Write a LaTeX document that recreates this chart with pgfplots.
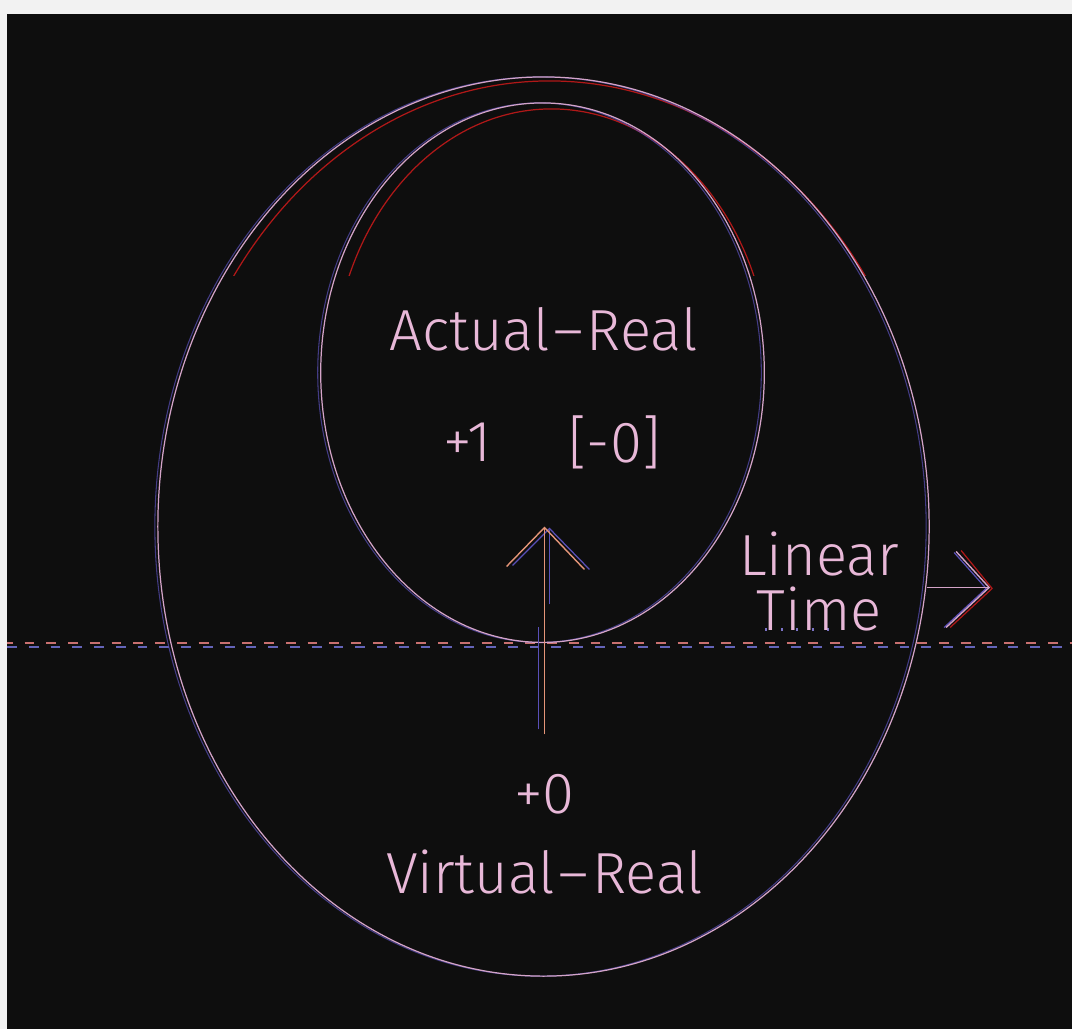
\documentclass[border=0pt]{standalone}
\usepackage{pgfplots}
\pgfplotsset{compat=1.18}
\usepackage{fontspec}
\setmainfont{Fira Sans Light}
\definecolor{bgdark}{HTML}{0E0E0E}
\definecolor{bggrey}{HTML}{F2F2F2}
\definecolor{pinkln}{HTML}{D4A4C8}
\definecolor{pinktx}{HTML}{E8B8D8}
\definecolor{redln}{HTML}{B01818}
\definecolor{bluln}{HTML}{5A50B8}
\definecolor{dashpink}{HTML}{C87070}
\definecolor{dashblue}{HTML}{6464B8}
\begin{document}
\begin{tikzpicture}
\begin{axis}[width=10.73cm, height=10.30cm, scale only axis,
  xmin=0, xmax=1073, ymin=0, ymax=1030, y dir=reverse,
  hide axis, clip=false]
% background
\fill[bggrey] (axis cs:0,0) rectangle (axis cs:1073,1030);
\fill[bgdark] (axis cs:7,14) rectangle (axis cs:1073,1030);
% dashed horizon
\addplot[dashblue, line width=0.55pt, dash pattern=on 2.8pt off 3.4pt] coordinates {(7,648) (1073,648)};
\addplot[dashpink, line width=0.55pt, dash pattern=on 2.8pt off 3.4pt, dash phase=1.2pt] coordinates {(7,644) (1073,644)};
% red partial arcs (aberration)
\begin{scope}
\clip (axis cs:7,14) rectangle (axis cs:1073,276);
\draw[redln, line width=0.35pt] (axis cs:550,533) ellipse [x radius=38.4mm, y radius=45.2mm];
\draw[redln, line width=0.35pt] (axis cs:552,379) ellipse [x radius=21.9mm, y radius=27.0mm];
\end{scope}
% blue offset ellipses
\draw[bluln, line width=0.3pt, opacity=0.7] (axis cs:541,527) ellipse [x radius=38.6mm, y radius=45.0mm];
\draw[bluln, line width=0.3pt, opacity=0.7] (axis cs:540,373) ellipse [x radius=22.2mm, y radius=27.0mm];
% main ellipses
\draw[pinkln, line width=0.35pt] (axis cs:544,527) ellipse [x radius=38.6mm, y radius=45.0mm];
\draw[pinkln, line width=0.35pt] (axis cs:543,373) ellipse [x radius=22.2mm, y radius=27.0mm];
% up arrow
\addplot[bluln, line width=0.35pt] coordinates {(539,730) (539,628)};
\addplot[bluln, line width=0.35pt] coordinates {(550,605) (550,530)};
\addplot[bluln, line width=0.35pt] coordinates {(513,566) (550,529) (590,570)};
\addplot[pinkln!60!orange, line width=0.4pt] coordinates {(545,735) (545,528)};
\addplot[pinkln!60!orange, line width=0.4pt] coordinates {(507,567) (545,528) (585,570)};
% right arrow
\addplot[redln, line width=0.35pt] coordinates {(962,551) (993,589) (951,628)};
\addplot[bluln, line width=0.35pt] coordinates {(955,553) (987,589) (945,628)};
\addplot[pinkln, line width=0.4pt] coordinates {(928,588) (990,588)};
\addplot[pinkln, line width=0.4pt] coordinates {(957,552) (990,588) (947,628)};
% dots under Time
\addplot[bluln!80!white, line width=0.6pt, dash pattern=on 0.6pt off 3.8pt] coordinates {(766,630) (842,630)};
% texts
\node[text=pinktx, font=\fontsize{16.5}{19}\selectfont, anchor=center] at (axis cs:544,330) {Actual\kern1pt–\kern1ptReal};
\node[text=pinktx, font=\fontsize{16.5}{19}\selectfont, anchor=center] at (axis cs:468,443) {+1};
\node[text=pinktx, font=\fontsize{16.5}{19}\selectfont, anchor=center] at (axis cs:615,443) {[-0]};
\node[text=pinktx, font=\fontsize{16.5}{19}\selectfont, anchor=center] at (axis cs:545,795) {+0};
\node[text=pinktx, font=\fontsize{16.5}{19}\selectfont, anchor=center] at (axis cs:545,873) {Virtual\kern1pt–\kern1ptReal};
\node[text=pinktx, font=\fontsize{16.5}{15.6}\selectfont, anchor=center, align=center, inner sep=0pt] at (axis cs:820,582) {Linear\\Time};
\end{axis}
\end{tikzpicture}
\end{document}
